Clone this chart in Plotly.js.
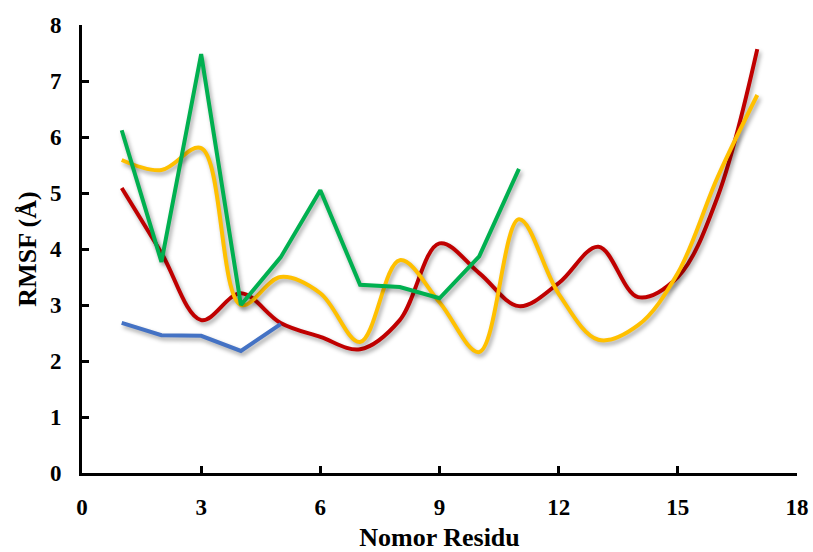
<!DOCTYPE html>
<html>
<head>
<meta charset="utf-8">
<script src="https://cdn.plot.ly/plotly-3.0.1.min.js"></script>
<style>
html,body{margin:0;padding:0;background:#fff;}
#chart{width:813px;height:552px;}
.scatterlayer .trace path.js-line{filter:drop-shadow(2px 3px 2px rgba(0,0,0,0.35));}
</style>
</head>
<body>
<div id="chart"></div>
<script>
// Residue numbers
const residuesLong = [1,2,3,4,5,6,7,8,9,10,11,12,13,14,15,16,17];
const residuesGreen = [1,2,3,4,5,6,7,8,9,10,11];
const residuesBlue = [1,2,3,4,5];

// RMSF values (Å)
const redValues = [5.09,3.93,2.73,3.21,2.68,2.43,2.21,2.73,4.1,3.57,2.98,3.39,4.04,3.14,3.5,4.93,7.57];
const yellowValues = [5.59,5.41,5.8,3.0,3.5,3.21,2.34,3.8,3.05,2.16,4.53,3.2,2.38,2.64,3.57,5.28,6.75];
const greenValues = [6.12,3.77,7.48,3.0,3.85,5.05,3.36,3.32,3.12,3.87,5.43];
const blueValues = [2.68,2.46,2.45,2.18,2.66];

// Axis ticks
const xTicks = [0,3,6,9,12,15,18];
const yTicks = [0,1,2,3,4,5,6,7,8];

const traces = [
  {x: residuesLong, y: redValues, type:'scatter', mode:'lines',
   line:{color:'#C00000', width:4, shape:'spline', smoothing:1}, name:'red'},
  {x: residuesLong, y: yellowValues, type:'scatter', mode:'lines',
   line:{color:'#FFC000', width:4, shape:'spline', smoothing:1}, name:'yellow'},
  {x: residuesGreen, y: greenValues, type:'scatter', mode:'lines',
   line:{color:'#00B050', width:4}, name:'green'},
  {x: residuesBlue, y: blueValues, type:'scatter', mode:'lines',
   line:{color:'#4472C4', width:4}, name:'blue'}
];

const tickFont = {family:'"Liberation Serif", "Times New Roman", serif', size:23, color:'#000', weight:'bold'};
const titleFont = {family:'"Liberation Serif", "Times New Roman", serif', size:26, color:'#000', weight:'bold'};

const layout = {
  width:813, height:552,
  margin:{l:82, r:16, t:25, b:79},
  paper_bgcolor:'#fff', plot_bgcolor:'#fff',
  showlegend:false,
  xaxis:{
    range:[0,18], tickvals:xTicks, ticktext:xTicks.map(String),
    showline:true, linewidth:3, linecolor:'#000',
    ticks:'inside', ticklen:7, tickwidth:3, tickcolor:'#000',
    showgrid:false, zeroline:false, tickfont:tickFont,
    ticklabelstandoff:11,
    title:{text:'<b>Nomor Residu</b>', font:titleFont, standoff:14}
  },
  yaxis:{
    range:[0,8], tickvals:yTicks, ticktext:yTicks.map(String),
    showline:true, linewidth:3, linecolor:'#000',
    ticks:'inside', ticklen:7, tickwidth:3, tickcolor:'#000',
    showgrid:false, zeroline:false, tickfont:tickFont,
    ticklabelstandoff:13,
    title:{text:'<b>RMSF (Å)</b>', font:titleFont, standoff:6}
  }
};

Plotly.newPlot('chart', traces, layout, {staticPlot:true, displayModeBar:false});
</script>
</body>
</html>
